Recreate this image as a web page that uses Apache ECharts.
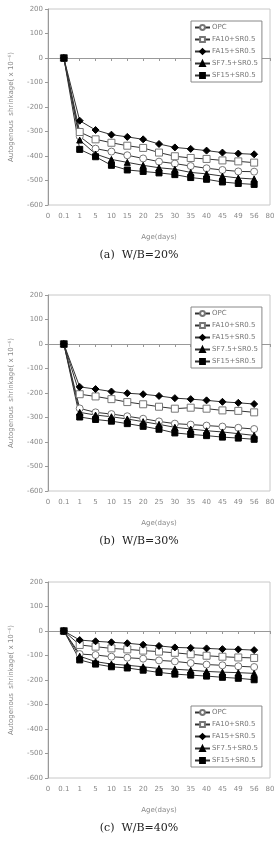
<!DOCTYPE html>
<html>
<head>
<meta charset="utf-8">
<script src="https://cdn.jsdelivr.net/npm/echarts@6/dist/echarts.min.js"></script>
<style>
  html, body { margin: 0; padding: 0; background: #fff; }
  #main { width: 278px; height: 850px; }
</style>
</head>
<body>
<div id="main"></div>
<script>
// x 축 눈금 (등간격 범주)
const ticks = ['0', '0.1', '1', '5', '10', '15', '20', '25', '30', '35', '40', '45', '49', '56', '80'];
const ages = ['0.1', '1', '5', '10', '15', '20', '25', '30', '35', '40', '45', '49', '56'];
const names = ['OPC', 'FA10+SR0.5', 'FA15+SR0.5', 'SF7.5+SR0.5', 'SF15+SR0.5'];
const captions = ['(a)  W/B=20%', '(b)  W/B=30%', '(c)  W/B=40%'];

// (a) W/B=20%
const opc20 = [0, -320, -370, -382, -397, -410, -423, -431, -441, -450, -457, -463, -464];
const fa10_20 = [0, -302, -332, -346, -358, -367, -386, -401, -408, -412, -418, -422, -427];
const fa15_20 = [0, -256, -294, -313, -322, -332, -351, -365, -371, -378, -386, -390, -393];
const sf75_20 = [0, -335, -392, -414, -426, -438, -448, -454, -467, -473, -482, -490, -494];
const sf15_20 = [0, -373, -403, -438, -457, -463, -469, -476, -488, -495, -506, -512, -516];

// (b) W/B=30%
const opc30 = [0, -263, -279, -286, -295, -305, -316, -325, -329, -333, -337, -342, -347];
const fa10_30 = [0, -205, -214, -225, -237, -246, -256, -264, -260, -264, -271, -273, -279];
const fa15_30 = [0, -175, -184, -194, -201, -205, -212, -221, -225, -230, -236, -240, -245];
const sf75_30 = [0, -279, -290, -297, -306, -317, -328, -340, -347, -354, -359, -366, -373];
const sf15_30 = [0, -298, -308, -315, -325, -336, -348, -363, -369, -374, -380, -384, -389];

// (c) W/B=40%
const opc40 = [0, -94, -98, -105, -109, -113, -120, -124, -131, -137, -140, -144, -147];
const fa10_40 = [0, -57, -64, -71, -75, -80, -84, -89, -95, -101, -105, -108, -110];
const fa15_40 = [0, -37, -42, -46, -50, -56, -61, -67, -69, -71, -74, -75, -78];
const sf75_40 = [0, -103, -125, -135, -140, -146, -153, -156, -160, -165, -168, -170, -173];
const sf15_40 = [0, -118, -135, -146, -151, -160, -169, -176, -180, -184, -189, -193, -199];

const groups = [
    [opc20, fa10_20, fa15_20, sf75_20, sf15_20],
    [opc30, fa10_30, fa15_30, sf75_30, sf15_30],
    [opc40, fa10_40, fa15_40, sf75_40, sf15_40]
];

const gridTops = [9, 295, 582];
const gridH = 196;
const legendTops = [21, 307, 706];

const symbols = [
    {symbol: 'circle', size: 7, fill: '#fff', border: '#777'},
    {symbol: 'rect', size: 7, fill: '#fff', border: '#777'},
    {symbol: 'diamond', size: 7, fill: '#000', border: '#000'},
    {symbol: 'triangle', size: 6, fill: '#000', border: '#000'},
    {symbol: 'rect', size: 6, fill: '#000', border: '#000'}
];

const grid = [], xAxis = [], yAxis = [], legend = [], series = [], graphic = [];

gridTops.forEach((top, g) => {
    grid.push({
        left: 41, width: 229, top: top, height: gridH,
        show: true, borderColor: '#c8c8c8', borderWidth: 1
    });
    xAxis.push({
        type: 'category', gridIndex: g, data: ticks, boundaryGap: false,
        name: 'Age(days)', nameLocation: 'middle', nameGap: 29,
        nameTextStyle: {fontSize: 7, color: '#888', fontFamily: 'DejaVu Sans'},
        axisLine: {lineStyle: {color: '#999'}},
        axisTick: {show: true, interval: 0, length: 3, lineStyle: {color: '#999'}},
        axisLabel: {interval: 0, fontSize: 7, color: '#888', margin: 8, fontFamily: 'DejaVu Sans'},
        splitLine: {show: false}
    });
    yAxis.push({
        type: 'value', gridIndex: g, min: -600, max: 200, interval: 100,
        name: 'Autogenous  shrinkage( x 10⁻⁶)', nameLocation: 'middle', nameGap: 33,
        nameTextStyle: {fontSize: 7, color: '#888', fontFamily: 'DejaVu Sans'},
        axisLine: {show: true, lineStyle: {color: '#999'}},
        axisTick: {show: true, length: 3, lineStyle: {color: '#999'}},
        axisLabel: {fontSize: 7, color: '#888', margin: 5, fontFamily: 'DejaVu Sans'},
        splitLine: {show: false}
    });
    legend.push({
        orient: 'vertical', left: 191, top: legendTops[g],
        data: names.map(n => ({name: n})),
        itemWidth: 15, itemHeight: 6, itemGap: 5,
        padding: [3, 4, 3, 3],
        borderColor: '#888', borderWidth: 1, backgroundColor: '#fff',
        textStyle: {fontSize: 7, color: '#777', fontFamily: 'DejaVu Sans', padding: [0, 0, 0, -3]}
    });
    groups[g].forEach((vals, i) => {
        const s = symbols[i];
        series.push({
            name: names[i], type: 'line', xAxisIndex: g, yAxisIndex: g,
            data: ages.map((a, k) => [a, vals[k]]),
            symbol: s.symbol, symbolSize: s.size, showAllSymbol: true,
            lineStyle: {color: '#333', width: 1},
            itemStyle: {color: s.fill, borderColor: s.border, borderWidth: 1},
            emphasis: {disabled: true},
            animation: false
        });
    });
    graphic.push({
        type: 'text', x: 139, y: top + gridH + 50,
        style: {
            text: captions[g], fontSize: 11, fill: '#222',
            fontFamily: 'DejaVu Serif', align: 'center', verticalAlign: 'middle'
        }
    });
});

const chart = echarts.init(document.getElementById('main'));
chart.setOption({
    animation: false,
    grid, xAxis, yAxis, legend, series, graphic
});
</script>
</body>
</html>
